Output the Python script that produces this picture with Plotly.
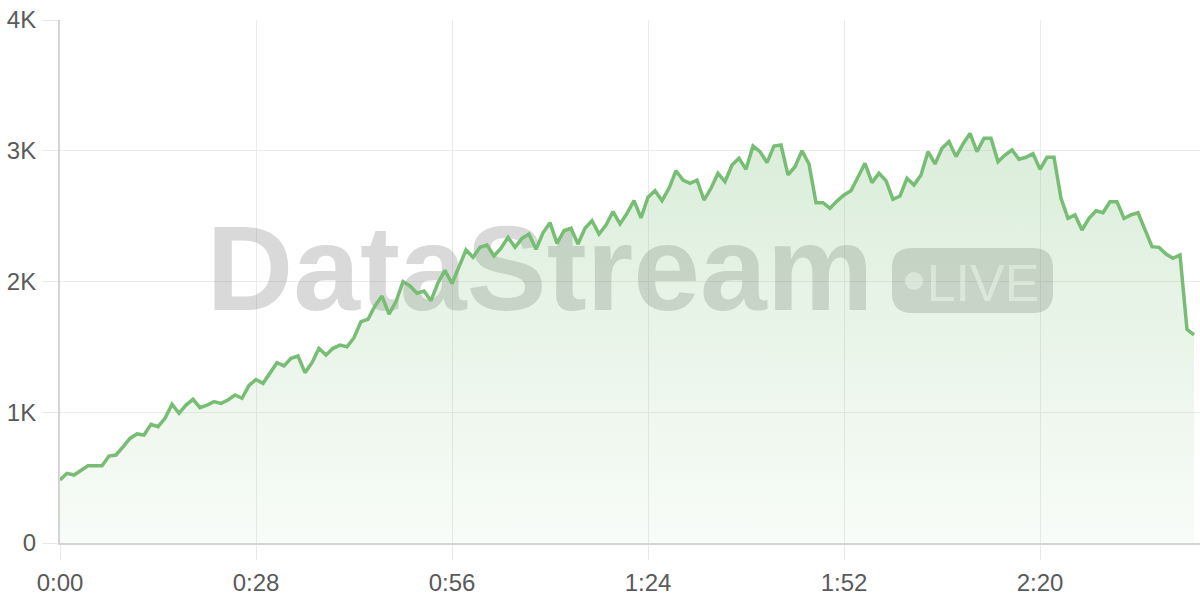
import plotly.graph_objects as go

# ---- data ----
seconds = list(range(163))
viewers = [
    482, 533, 520, 553, 591, 591, 591, 665, 673, 735,
    800, 834, 826, 908, 890, 953, 1061, 992, 1055, 1099,
    1035, 1055, 1081, 1068, 1094, 1132, 1107, 1205, 1250, 1221,
    1300, 1379, 1354, 1412, 1430, 1303, 1379, 1489, 1438, 1489,
    1514, 1501, 1570, 1693, 1711, 1813, 1889, 1751, 1846, 1999,
    1966, 1910, 1927, 1853, 1991, 2085, 1985, 2110, 2241, 2185,
    2262, 2279, 2195, 2254, 2338, 2262, 2330, 2363, 2246, 2373,
    2450, 2292, 2388, 2407, 2287, 2407, 2465, 2363, 2432, 2534,
    2440, 2521, 2618, 2487, 2644, 2694, 2618, 2713, 2847, 2776,
    2751, 2776, 2623, 2713, 2828, 2763, 2891, 2942, 2858, 3036,
    2993, 2909, 3036, 3044, 2815, 2878, 3000, 2899, 2603, 2603,
    2560, 2615, 2662, 2694, 2800, 2904, 2756, 2828, 2771, 2629,
    2654, 2789, 2738, 2815, 2993, 2899, 3019, 3069, 2955, 3052,
    3133, 2993, 3095, 3095, 2916, 2967, 3006, 2935, 2950, 2978,
    2858, 2950, 2950, 2636, 2483, 2509, 2394, 2483, 2541, 2526,
    2610, 2610, 2483, 2509, 2526, 2399, 2266, 2261, 2210, 2177,
    2203, 1634, 1591,
]
x_tickvals = [0, 28, 56, 84, 112, 140]
x_ticktext = ["0:00", "0:28", "0:56", "1:24", "1:52", "2:20"]
y_tickvals = [0, 1000, 2000, 3000, 4000]
y_ticktext = ["0", "1K", "2K", "3K", "4K"]
watermark_text = "DataStream"
badge_text = "LIVE"

# ---- layout geometry (page pixels; body margin removed in the page) ----
W, H = 1200, 600
PLOT_L, PLOT_R, PLOT_T, PLOT_B = 60, 1200, 20, 543
ML, MR, MT, MB = PLOT_L, W - PLOT_R, PLOT_T, H - PLOT_B
X_RANGE = [0, (PLOT_R - PLOT_L) / 7.0]
Y_RANGE = [0, 4000]
px_per_x = (PLOT_R - PLOT_L) / (X_RANGE[1] - X_RANGE[0])
px_per_y = (PLOT_B - PLOT_T) / (Y_RANGE[1] - Y_RANGE[0])


def to_x(px):
    return (px - PLOT_L) / px_per_x


def to_y(py):
    return (PLOT_B - py) / px_per_y


LINE = "#77bd74"
WM = "rgba(105,105,105,0.25)"
FONT = "Liberation Sans"
TICK_FONT = dict(family=FONT, size=24, color="#5a5a5a")

fig = go.Figure()

# watermark (drawn under the data)
fig.add_trace(go.Scatter(
    x=[to_x(540)], y=[to_y(279.5)], mode="text", text=[watermark_text],
    textposition="middle center",
    textfont=dict(family=FONT, size=120, color=WM, weight="bold"),
    hoverinfo="skip", showlegend=False,
))
fig.add_trace(go.Scatter(
    x=[to_x(983)], y=[to_y(288)], mode="text", text=[badge_text],
    textposition="middle center",
    textfont=dict(family=FONT, size=52, color="rgba(255,255,255,0.6)"),
    hoverinfo="skip", showlegend=False,
))

# badge shape
bx0, bx1, by0, by1, r = 892, 1053, 248, 313, 20
path = (
    f"M {to_x(bx0 + r)},{to_y(by0)} L {to_x(bx1 - r)},{to_y(by0)} "
    f"Q {to_x(bx1)},{to_y(by0)} {to_x(bx1)},{to_y(by0 + r)} "
    f"L {to_x(bx1)},{to_y(by1 - r)} "
    f"Q {to_x(bx1)},{to_y(by1)} {to_x(bx1 - r)},{to_y(by1)} "
    f"L {to_x(bx0 + r)},{to_y(by1)} "
    f"Q {to_x(bx0)},{to_y(by1)} {to_x(bx0)},{to_y(by1 - r)} "
    f"L {to_x(bx0)},{to_y(by0 + r)} "
    f"Q {to_x(bx0)},{to_y(by0)} {to_x(bx0 + r)},{to_y(by0)} Z"
)
fig.add_shape(type="path", path=path, fillcolor=WM, line=dict(width=0),
              layer="between")
cx, cy, cr = 914, 281, 9
fig.add_shape(type="circle", x0=to_x(cx - cr), x1=to_x(cx + cr),
              y0=to_y(cy + cr), y1=to_y(cy - cr),
              fillcolor="rgba(255,255,255,0.6)", line=dict(width=0),
              layer="between")

# area line
fig.add_trace(go.Scatter(
    x=seconds, y=viewers, mode="lines",
    line=dict(color=LINE, width=3.5),
    fill="tozeroy",
    fillgradient=dict(
        type="vertical",
        colorscale=[[0, "rgba(119,189,116,0.05)"], [1, "rgba(119,189,116,0.27)"]],
        start=0, stop=3150,
    ),
    hoverinfo="skip", showlegend=False,
))

fig.update_layout(
    width=W, height=H,
    margin=dict(l=ML, r=MR, t=MT, b=MB, autoexpand=False),
    paper_bgcolor="white", plot_bgcolor="white",
    font=dict(family=FONT, size=24, color="#5a5a5a"),
    showlegend=False,
)
fig.update_xaxes(
    range=X_RANGE, tickvals=x_tickvals, ticktext=x_ticktext,
    showgrid=True, gridcolor="#ebebeb", gridwidth=1,
    ticks="outside", ticklen=15, tickcolor="#e8e8e8", tickwidth=1,
    showline=True, linecolor="#d4d4d4", linewidth=2,
    zeroline=False, ticklabelstandoff=2, automargin=False,
    ticklabeloverflow="allow", tickfont=TICK_FONT,
)
fig.update_yaxes(
    range=Y_RANGE, tickvals=y_tickvals, ticktext=y_ticktext,
    showgrid=True, gridcolor="#ebebeb", gridwidth=1,
    ticks="outside", ticklen=16, tickcolor="#e8e8e8", tickwidth=1,
    showline=True, linecolor="#d4d4d4", linewidth=2,
    zeroline=False, ticklabelstandoff=1, automargin=False,
    ticklabeloverflow="allow", tickfont=TICK_FONT,
)

fig.write_html(
    "out.html",
    config={"displayModeBar": False, "staticPlot": True},
    post_script="document.body.style.margin='0';document.body.style.overflow='hidden';",
)
